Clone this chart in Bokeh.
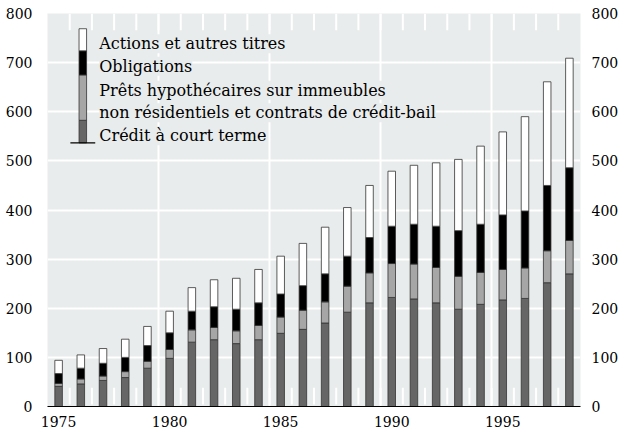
from bokeh.plotting import figure
from bokeh.models import Range1d, FixedTicker, LinearAxis, Label, ColumnDataSource
from bokeh.embed import file_html
from bokeh.resources import INLINE

# ---------------- data ----------------
years = list(range(1975, 1999))
credit_court_terme = [41, 46, 53, 59, 78, 98, 131, 136, 128, 136, 149, 157,
                      170, 192, 211, 222, 219, 211, 198, 208, 217, 220, 252, 270]
prets_hypothecaires = [6, 10, 9, 12, 14, 18, 25, 25, 26, 29, 33, 39,
                       43, 53, 61, 69, 71, 72, 67, 65, 62, 62, 65, 68]
obligations = [20, 22, 26, 29, 32, 34, 38, 42, 44, 46, 47, 50,
               57, 61, 72, 76, 81, 84, 93, 98, 111, 116, 133, 148]
actions = [27, 27, 30, 37, 39, 44, 48, 55, 63, 68, 77, 86,
           95, 99, 106, 112, 120, 129, 145, 159, 169, 192, 211, 223]

series_keys = ["credit", "prets", "oblig", "actions"]
series_labels = ["Crédit à court terme",
                 ["Prêts hypothécaires sur immeubles",
                  "non résidentiels et contrats de crédit-bail"],
                 "Obligations",
                 "Actions et autres titres"]
y_ticks = [0, 100, 200, 300, 400, 500, 600, 700, 800]
x_tick_labels = [1975, 1980, 1985, 1990, 1995]

# ---------------- style ----------------
BG = "#e9ecec"
COLORS = ["#666666", "#a6a6a6", "#000000", "#ffffff"]
OUTLINE = "#333333"
FONT = "DejaVu Serif"
BAR_W = 0.34
TICK_LEN = 34   # white inner ticks, in y units
TICK_GAP = 4

src = ColumnDataSource(dict(year=years, credit=credit_court_terme,
                            prets=prets_hypothecaires, oblig=obligations,
                            actions=actions))

p = figure(width=621, height=429, output_backend="svg", toolbar_location=None,
           x_range=Range1d(years[0] - 0.5, years[-1] + 0.5),
           y_range=Range1d(y_ticks[0], y_ticks[-1]))
p.min_border_left = 47
p.min_border_right = 0
p.min_border_top = 13
p.min_border_bottom = 0
p.background_fill_color = BG
p.border_fill_color = "white"
p.outline_line_color = None

# grid
p.ygrid.ticker = FixedTicker(ticks=y_ticks)
p.ygrid.grid_line_color = "white"
p.ygrid.grid_line_width = 2
p.xgrid.ticker = FixedTicker(ticks=[t - 0.5 for t in x_tick_labels[1:]])
p.xgrid.grid_line_color = "white"
p.xgrid.grid_line_width = 2

# white inner ticks between years (top and bottom)
minor_pos = [y + 0.5 for y in years[:-1]]
n = len(minor_pos)
p.segment(x0=minor_pos, x1=minor_pos, y0=[y_ticks[0] + TICK_GAP] * n,
          y1=[y_ticks[0] + TICK_GAP + TICK_LEN] * n, line_color="white", line_width=2)
p.segment(x0=minor_pos, x1=minor_pos, y0=[y_ticks[-1] - TICK_LEN] * n,
          y1=[y_ticks[-1]] * n, line_color="white", line_width=2)

# bottom axis
xa = p.xaxis[0]
xa.ticker = FixedTicker(ticks=x_tick_labels)
xa.major_tick_line_color = None
xa.minor_tick_line_color = None
xa.axis_line_color = "black"
xa.axis_line_width = 1
xa.major_label_standoff = 3
xa.major_label_text_font = FONT
xa.major_label_text_font_size = "14px"
xa.major_label_text_color = "black"

# y axes
def style_y(ax, standoff):
    ax.ticker = FixedTicker(ticks=y_ticks)
    ax.axis_line_color = None
    ax.major_tick_line_color = None
    ax.minor_tick_line_color = None
    ax.major_label_standoff = standoff
    ax.major_label_text_font = FONT
    ax.major_label_text_font_size = "14px"
    ax.major_label_text_color = "black"

style_y(p.yaxis[0], 9)
ra = LinearAxis()
style_y(ra, 5)
p.add_layout(ra, "right")

# bars
p.vbar_stack(series_keys, x="year", width=BAR_W, source=src,
             fill_color=COLORS, line_color=OUTLINE, line_width=0.8)

# custom legend (stacked column key)
LEG_X = 1976.09
LEG_EDGES = [536.6, 582.6, 675, 724, 769]
p.vbar(x=[LEG_X] * 4, width=BAR_W, bottom=LEG_EDGES[:-1], top=LEG_EDGES[1:],
       fill_color=COLORS, line_color=OUTLINE, line_width=0.8)
p.segment(x0=[LEG_X - 0.56], x1=[LEG_X + 0.56], y0=[LEG_EDGES[0]], y1=[LEG_EDGES[0]],
          line_color="black", line_width=1.2)

LEG_TEXT_X = 1976.83
text_items = [
    (series_labels[3], 738.6),
    (series_labels[2], 692.6),
    (series_labels[1][0], 644),
    (series_labels[1][1], 598),
    (series_labels[0], 551),
]
for txt, yy in text_items:
    p.add_layout(Label(x=LEG_TEXT_X, y=yy, text=txt, text_font=FONT,
                       text_font_size="16px", text_baseline="alphabetic",
                       text_color="black", background_fill_color=BG,
                       background_fill_alpha=1.0))

open("out.html", "w").write(file_html(p, INLINE))
